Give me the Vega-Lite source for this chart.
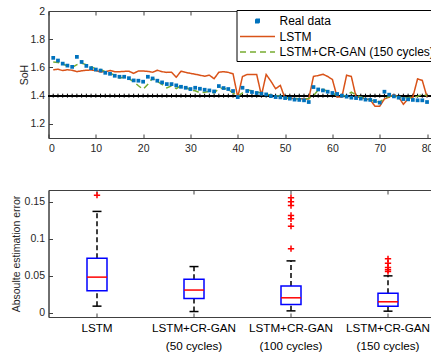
{
  "$schema": "https://vega.github.io/schema/vega-lite/v6.json",
  "padding": {"left": 10.5, "top": 5, "right": 0, "bottom": 0},
  "spacing": 34,
  "datasets": {
    "soh": [
      {"c":1,"r":1.668,"l":1.583,"g":1.638},{"c":2,"r":1.649,"l":1.587,"g":1.635},{"c":3,"r":1.627,"l":1.578,"g":1.625},{"c":4,"r":1.613,"l":1.584,"g":1.61},{"c":5,"r":1.604,"l":1.58,"g":1.6},
      {"c":6,"r":1.675,"l":1.57,"g":1.62},{"c":7,"r":1.639,"l":1.576,"g":1.63},{"c":8,"r":1.611,"l":1.58,"g":1.62},{"c":9,"r":1.595,"l":1.582,"g":1.605},{"c":10,"r":1.585,"l":1.578,"g":1.59},
      {"c":11,"r":1.578,"l":1.568,"g":1.585},{"c":12,"r":1.562,"l":1.57,"g":1.57},{"c":13,"r":1.555,"l":1.578,"g":1.56},{"c":14,"r":1.541,"l":1.57,"g":1.545},{"c":15,"r":1.534,"l":1.57,"g":1.525},
      {"c":16,"r":1.534,"l":1.572,"g":1.53},{"c":17,"r":1.524,"l":1.573,"g":1.52},{"c":18,"r":1.508,"l":1.558,"g":1.5},{"c":19,"r":1.506,"l":1.575,"g":1.47},{"c":20,"r":1.499,"l":1.575,"g":1.445},
      {"c":21,"r":1.534,"l":1.572,"g":1.48},{"c":22,"r":1.522,"l":1.566,"g":1.525},{"c":23,"r":1.506,"l":1.58,"g":1.5},{"c":24,"r":1.494,"l":1.57,"g":1.48},{"c":25,"r":1.482,"l":1.565,"g":1.455},
      {"c":26,"r":1.482,"l":1.566,"g":1.47},{"c":27,"r":1.473,"l":1.531,"g":1.45},{"c":28,"r":1.463,"l":1.573,"g":1.47},{"c":29,"r":1.456,"l":1.565,"g":1.46},{"c":30,"r":1.447,"l":1.558,"g":1.44},
      {"c":31,"r":1.456,"l":1.552,"g":1.435},{"c":32,"r":1.449,"l":1.545,"g":1.42},{"c":33,"r":1.442,"l":1.538,"g":1.425},{"c":34,"r":1.437,"l":1.545,"g":1.43},{"c":35,"r":1.43,"l":1.52,"g":1.42},
      {"c":36,"r":1.468,"l":1.566,"g":1.45},{"c":37,"r":1.454,"l":1.57,"g":1.455},{"c":38,"r":1.447,"l":1.565,"g":1.44},{"c":39,"r":1.433,"l":1.555,"g":1.42},{"c":40,"r":1.39,"l":1.39,"g":1.395},
      {"c":41,"r":1.456,"l":1.536,"g":1.42},{"c":42,"r":1.433,"l":1.55,"g":1.44},{"c":43,"r":1.426,"l":1.55,"g":1.435},{"c":44,"r":1.419,"l":1.55,"g":1.425},{"c":45,"r":1.414,"l":1.402,"g":1.42},
      {"c":46,"r":1.409,"l":1.55,"g":1.41},{"c":47,"r":1.397,"l":1.503,"g":1.405},{"c":48,"r":1.39,"l":1.449,"g":1.4},{"c":49,"r":1.388,"l":1.473,"g":1.398},{"c":50,"r":1.383,"l":1.379,"g":1.385},
      {"c":51,"r":1.379,"l":1.383,"g":1.38},{"c":52,"r":1.372,"l":1.379,"g":1.38},{"c":53,"r":1.37,"l":1.379,"g":1.378},{"c":54,"r":1.367,"l":1.377,"g":1.378},{"c":55,"r":1.355,"l":1.377,"g":1.38},
      {"c":56,"r":1.461,"l":1.536,"g":1.4},{"c":57,"r":1.444,"l":1.543,"g":1.44},{"c":58,"r":1.437,"l":1.552,"g":1.445},{"c":59,"r":1.428,"l":1.536,"g":1.43},{"c":60,"r":1.419,"l":1.515,"g":1.42},
      {"c":61,"r":1.412,"l":1.39,"g":1.4},{"c":62,"r":1.4,"l":1.39,"g":1.4},{"c":63,"r":1.393,"l":1.545,"g":1.4},{"c":64,"r":1.386,"l":1.536,"g":1.425},{"c":65,"r":1.383,"l":1.39,"g":1.405},
      {"c":66,"r":1.379,"l":1.388,"g":1.39},{"c":67,"r":1.372,"l":1.377,"g":1.38},{"c":68,"r":1.37,"l":1.37,"g":1.37},{"c":69,"r":1.362,"l":1.325,"g":1.36},{"c":70,"r":1.351,"l":1.325,"g":1.355},
      {"c":71,"r":1.428,"l":1.377,"g":1.38},{"c":72,"r":1.407,"l":1.39,"g":1.395},{"c":73,"r":1.395,"l":1.407,"g":1.4},{"c":74,"r":1.386,"l":1.39,"g":1.39},{"c":75,"r":1.376,"l":1.339,"g":1.385},
      {"c":76,"r":1.374,"l":1.379,"g":1.385},{"c":77,"r":1.37,"l":1.39,"g":1.39},{"c":78,"r":1.367,"l":1.519,"g":1.395},{"c":79,"r":1.367,"l":1.508,"g":1.41},{"c":80,"r":1.355,"l":1.39,"g":1.4}
    ],
    "stats": [
      {"m":"LSTM","lo":0.0087,"q1":0.0296,"med":0.048,"q3":0.0737,"hi":0.137},
      {"m":"LSTM+CR-GAN|(50 cycles)","lo":0.0014,"q1":0.019,"med":0.0305,"q3":0.045,"hi":0.0623},
      {"m":"LSTM+CR-GAN|(100 cycles)","lo":0.0023,"q1":0.011,"med":0.02,"q3":0.036,"hi":0.07},
      {"m":"LSTM+CR-GAN|(150 cycles)","lo":0.0019,"q1":0.0087,"med":0.0146,"q3":0.026,"hi":0.0497}
    ],
    "outliers": [
      {"m":"LSTM","v":0.159},
      {"m":"LSTM+CR-GAN|(100 cycles)","v":0.1555},{"m":"LSTM+CR-GAN|(100 cycles)","v":0.15},{"m":"LSTM+CR-GAN|(100 cycles)","v":0.145},{"m":"LSTM+CR-GAN|(100 cycles)","v":0.1315},{"m":"LSTM+CR-GAN|(100 cycles)","v":0.127},{"m":"LSTM+CR-GAN|(100 cycles)","v":0.117},{"m":"LSTM+CR-GAN|(100 cycles)","v":0.0865},
      {"m":"LSTM+CR-GAN|(150 cycles)","v":0.0728},{"m":"LSTM+CR-GAN|(150 cycles)","v":0.0669},{"m":"LSTM+CR-GAN|(150 cycles)","v":0.061},{"m":"LSTM+CR-GAN|(150 cycles)","v":0.058},{"m":"LSTM+CR-GAN|(150 cycles)","v":0.0555}
    ]
  },
  "vconcat": [
    {
      "width": 388,
      "height": 127,
      "data": {"name": "soh"},
      "resolve": {"axis": {"x": "independent"}},
      "layer": [
        {
          "mark": {"type": "rule", "color": "black", "strokeWidth": 1.5},
          "encoding": {"y": {"datum": 1.4, "type": "quantitative", "scale": {"domain": [1.1, 2], "nice": false, "zero": false},
                  "axis": {"title": "SoH", "values": [1.2, 1.4, 1.6, 1.8, 2], "format": "~g", "labelOverlap": false, "tickSize": -4, "labelPadding": 8, "labelFontSize": 10.5, "titlePadding": 0}}}
        },
        {
          "mark": {"type": "point", "shape": "M0,-1V1", "filled": false, "stroke": "black", "strokeWidth": 1, "size": 16, "opacity": 1},
          "encoding": {
            "x": {"field": "c", "type": "quantitative", "scale": {"domain": [0, 82], "nice": false},
                  "axis": {"orient": "top", "labels": false, "domain": false, "title": null, "values": [0,10,20,30,40,50,60,70,80], "tickSize": -4}},
            "y": {"datum": 1.4, "type": "quantitative",
                  "axis": {"title": "SoH", "values": [1.2, 1.4, 1.6, 1.8, 2], "format": "~g", "labelOverlap": false, "tickSize": -4, "labelPadding": 8, "labelFontSize": 10.5, "titlePadding": 0}}
          }
        },
        {
          "transform": [{"fold": ["l", "g"], "as": ["series", "soh"]}],
          "mark": {"type": "line", "strokeWidth": 1.5},
          "encoding": {
            "x": {"field": "c", "type": "quantitative", "scale": {"domain": [0, 82], "nice": false},
                  "axis": {"orient": "bottom", "title": null, "values": [0,10,20,30,40,50,60,70,80], "tickSize": -4, "labelPadding": 9, "labelFontSize": 10.5}},
            "y": {"field": "soh", "type": "quantitative",
                  "axis": {"title": "SoH", "values": [1.2, 1.4, 1.6, 1.8, 2], "format": "~g", "labelOverlap": false, "tickSize": -4, "labelPadding": 8, "labelFontSize": 10.5, "titlePadding": 0}},
            "color": {"field": "series", "type": "nominal",
                      "scale": {"domain": ["r", "l", "g"], "range": ["#0072BD", "#D95319", "#77AC30"]},
                      "legend": {
                        "orient": "none", "legendX": 188, "legendY": -1, "title": null,
                        "labelExpr": "datum.value === 'r' ? 'Real data' : datum.value === 'l' ? 'LSTM' : 'LSTM+CR-GAN (150 cycles)'",
                        "symbolType": "M-2.5,0H2.5", "symbolSize": 196, "symbolStrokeWidth": 1.5, "symbolOffset": 10,
                        "labelFontSize": 12, "labelColor": "black", "labelOffset": 14,
                        "fillColor": "white", "strokeColor": "black", "padding": 3, "rowPadding": 1.5,
                        "encode": {"symbols": {"update": {
                          "shape": {"signal": "datum.value === 'r' ? 'M-0.25,-0.25H0.25V0.25H-0.25Z' : 'M-2.5,0H2.5'"},
                          "fill": {"signal": "datum.value === 'r' ? '#0072BD' : 'transparent'"},
                          "fillOpacity": {"value": 1}
                        }}}
                      }},
            "strokeDash": {"field": "series", "type": "nominal",
                           "scale": {"domain": ["r", "l", "g"], "range": [[1, 0], [1, 0], [6, 4]]}}
          }
        },
        {
          "transform": [{"fold": ["r"], "as": ["series", "soh"]}],
          "mark": {"type": "point", "shape": "square", "filled": true, "size": 14, "opacity": 1},
          "encoding": {
            "x": {"field": "c", "type": "quantitative", "axis": null},
            "y": {"field": "soh", "type": "quantitative",
                  "axis": {"title": "SoH", "values": [1.2, 1.4, 1.6, 1.8, 2], "format": "~g", "labelOverlap": false, "tickSize": -4, "labelPadding": 8, "labelFontSize": 10.5, "titlePadding": 0}},
            "color": {"field": "series", "type": "nominal"}
          }
        }
      ]
    },
    {
      "width": 388,
      "height": 127,
      "resolve": {"axis": {"x": "independent"}},
      "layer": [
        {
          "data": {"name": "stats"},
          "mark": {"type": "rule", "color": "black", "strokeWidth": 1.5, "strokeDash": [5, 3]},
          "encoding": {
            "x": {"field": "m", "type": "nominal", "sort": null,
                  "scale": {"paddingInner": 0, "paddingOuter": 0},
                  "axis": {"title": null, "labelAngle": 0, "labelExpr": "split(datum.label, '|')", "labelLineHeight": 18, "labelFontSize": 11.7, "tickSize": -4, "labelPadding": 9.5, "labelColor": "black"}},
            "y": {"field": "q3", "type": "quantitative", "scale": {"domain": [-0.006, 0.166], "nice": false, "zero": false},
                  "axis": {"title": "Absoulte estimation error", "values": [0, 0.05, 0.1, 0.15], "format": "~g", "labelOverlap": false, "tickSize": -4, "labelPadding": 8, "labelFontSize": 10.5, "titlePadding": 2.5}},
            "y2": {"field": "hi"}
          }
        },
        {
          "data": {"name": "stats"},
          "mark": {"type": "rule", "color": "black", "strokeWidth": 1.5, "strokeDash": [5, 3]},
          "encoding": {
            "x": {"field": "m", "type": "nominal", "sort": null, "axis": null},
            "y": {"field": "lo", "type": "quantitative"},
            "y2": {"field": "q1"}
          }
        },
        {
          "data": {"name": "stats"},
          "mark": {"type": "bar", "fill": "white", "stroke": "#0000FF", "strokeWidth": 1.5, "width": 20},
          "encoding": {
            "x": {"field": "m", "type": "nominal", "sort": null, "axis": null},
            "y": {"field": "q1", "type": "quantitative"},
            "y2": {"field": "q3"}
          }
        },
        {
          "data": {"name": "stats"},
          "mark": {"type": "tick", "color": "#FF0000", "thickness": 1.5, "size": 20, "opacity": 1},
          "encoding": {
            "x": {"field": "m", "type": "nominal", "sort": null, "axis": null},
            "y": {"field": "med", "type": "quantitative"}
          }
        },
        {
          "data": {"name": "stats"},
          "mark": {"type": "tick", "color": "black", "thickness": 1.5, "size": 9, "opacity": 1},
          "encoding": {
            "x": {"field": "m", "type": "nominal", "sort": null,
                  "axis": {"orient": "top", "labels": false, "domain": false, "title": null, "tickSize": -4}},
            "y": {"field": "hi", "type": "quantitative"}
          }
        },
        {
          "data": {"name": "stats"},
          "mark": {"type": "tick", "color": "black", "thickness": 1.5, "size": 9, "opacity": 1},
          "encoding": {
            "x": {"field": "m", "type": "nominal", "sort": null, "axis": null},
            "y": {"field": "lo", "type": "quantitative"}
          }
        },
        {
          "data": {"name": "outliers"},
          "mark": {"type": "point", "shape": "M-1,0H1M0,-1V1", "filled": false, "stroke": "#FF0000", "strokeWidth": 1.5, "size": 40, "opacity": 1},
          "encoding": {
            "x": {"field": "m", "type": "nominal", "sort": null, "axis": null},
            "y": {"field": "v", "type": "quantitative"}
          }
        }
      ]
    }
  ],
  "config": {
    "font": "Liberation Sans",
    "view": {"stroke": "#404040", "strokeWidth": 1},
    "axis": {
      "grid": false,
      "labelOverlap": false,
      "labelColor": "#262626",
      "titleColor": "#262626",
      "domainColor": "#404040",
      "tickColor": "#404040",
      "titleFontWeight": "normal",
      "titleFontSize": 10.5,
      "labelFontSize": 10.5
    }
  }
}
